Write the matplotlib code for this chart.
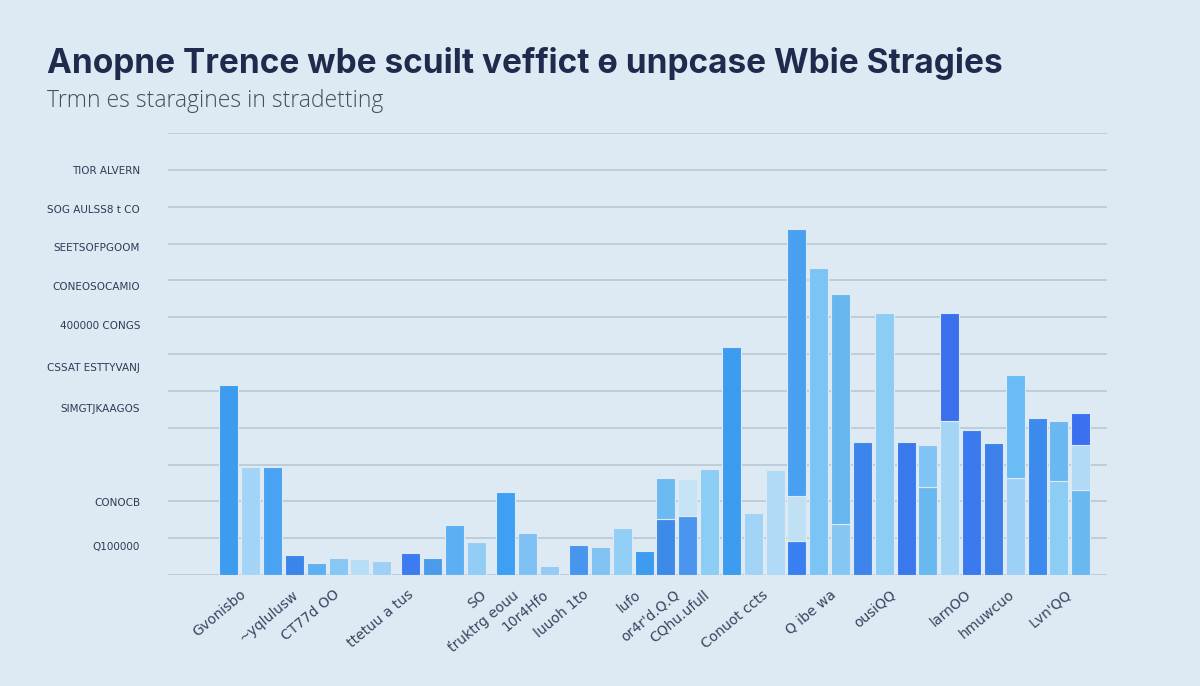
import numpy as np
import matplotlib
matplotlib.use("Agg")
import matplotlib.pyplot as plt

# --- data ---
title = "Anopne Trence wbe scuilt veffict \u0275 unpcase Wbie Stragies"
subtitle = "Trmn es staragines in stradetting"

y_labels = ["Q100000", "CONOCB", "SIMGTJKAAGOS", "CSSAT ESTTYVANJ", "400000 CONGS",
            "CONEOSOCAMIO", "SEETSOFPGOOM", "SOG AULSS8 t CO", "TIOR ALVERN"]
y_label_values = [0.79, 1.98, 4.53, 5.65, 6.79, 7.85, 8.90, 9.94, 11.0]

x_labels = ["Gvonisbo", "~yqlulusw", "CT77d OO", "ttetuu a tus", "SO", "\u0165ruktrg eouu",
            "10r4Hfo", "luuoh 1to", "lufo", "or4r'd.Q.Q", "CQhu.ufull", "Conuot ccts",
            "Q ibe wa", "ousiQQ", "larnOO", "hmuwcuo", "Lvn'QQ"]
x_label_slots = [0.50, 2.89, 4.77, 8.16, 11.50, 12.96, 14.34, 16.17, 18.60, 20.34,
                 21.71, 24.41, 27.53, 30.27, 33.71, 35.68, 38.29]

# cluster each bar belongs to
cluster = [0] * 8 + [1] * 4 + [2] * 3 + [3] * 24

# stacked segment heights (bottom, middle, top)
seg_bottom = [5.17, 2.93, 2.93, 0.54, 0.33, 0.46, 0.43, 0.38, 0.60, 0.46, 1.35, 0.89,
              2.25, 1.14, 0.24, 0.81, 0.76, 1.27, 0.65, 1.52, 1.60, 2.87, 6.18, 1.68,
              2.84, 0.92, 8.34, 1.38, 3.60, 7.10, 3.60, 2.38, 4.17, 3.93, 3.58, 2.63,
              4.25, 2.55, 2.30]
seg_middle = [0] * 19 + [1.11, 1.00, 0, 0, 0, 0, 1.22, 0, 6.26, 0, 0, 0, 1.14, 2.93,
                         0, 0, 2.81, 0, 1.62, 1.22]
seg_top = [0] * 25 + [7.26] + [0] * 12 + [0.89]

# shades for each segment (style)
c_bottom = ["#3d9bf0", "#a3d4f7", "#4aa2f2", "#3b84ea", "#5eb0f2", "#86c7f5", "#b8def7",
            "#9ed0f6", "#3c7cf0", "#4a9bea", "#5caff2", "#92cdf6", "#3e9ff4", "#7fc1f4",
            "#95cbf5", "#4895f0", "#80c2f2", "#92cff6", "#3d9bf0", "#3d8ae8", "#4a95f0",
            "#8ccdf5", "#3d9bf0", "#a0d3f5", "#b0daf5", "#3a7ff0", "#7cc4f5", "#86c6f3",
            "#3d85ea", "#8ccdf5", "#3a78ee", "#6ab8f0", "#a5d5f5", "#3a7aee", "#3d80ea",
            "#9dd0f5", "#3d8aef", "#8ccdf5", "#6ab8f0"]
c_middle = {19: "#6cbaf2", 20: "#c6e3f6", 25: "#c0e0f5", 27: "#68b6f0", 31: "#80c4f5",
            32: "#3a70ee", 35: "#6abcf5", 37: "#6ab8f0", 38: "#b0daf5"}
c_top = {25: "#4aa0f0", 38: "#3a6ff0"}

BG = "#dde9f3"
GAP = 0.34

fig = plt.figure(figsize=(12, 6.86), dpi=100, facecolor=BG)
ax = fig.add_axes([0.14, 0.1618, 0.7825, 0.6443])
ax.set_facecolor(BG)

x = np.arange(len(seg_bottom)) + GAP * np.array(cluster)
bottom = np.array(seg_bottom)
middle = np.array(seg_middle)
top = np.array(seg_top)

for g in range(13):
    ax.axhline(g, color="#bccbd8", lw=1.3, zorder=0)

ax.bar(x, bottom, width=0.87, color=c_bottom, edgecolor=BG, linewidth=0.8, zorder=2)
for i, col in c_middle.items():
    ax.bar(x[i], middle[i], bottom=bottom[i], width=0.87, color=col,
           edgecolor=BG, linewidth=0.8, zorder=2)
for i, col in c_top.items():
    ax.bar(x[i], top[i], bottom=bottom[i] + middle[i], width=0.87, color=col,
           edgecolor=BG, linewidth=0.8, zorder=2)

ax.set_xlim(-2.79, 40.22)
ax.set_ylim(0, 12)

ax.set_yticks(y_label_values)
ax.set_yticklabels(y_labels, fontsize=7.5, color="#2f3a55", fontweight="medium")
ax.tick_params(axis="y", length=0, pad=20)

ax.set_xticks(x_label_slots)
ax.set_xticklabels(x_labels, rotation=40, ha="right", rotation_mode="anchor",
                   fontsize=10, color="#3b4360")
ax.tick_params(axis="x", length=0, pad=9)

for s in ax.spines.values():
    s.set_visible(False)

fig.text(47 / 1200, 1 - 73 / 686, title, fontsize=24, fontweight="bold",
         color="#1e2b4d", family="Inter", va="baseline")
fig.text(47 / 1200, 1 - 107 / 686, subtitle, fontsize=16.5, fontweight="light",
         color="#474e5e", family="Open Sans", va="baseline")

fig.savefig("out.png", dpi=100, facecolor=BG)
